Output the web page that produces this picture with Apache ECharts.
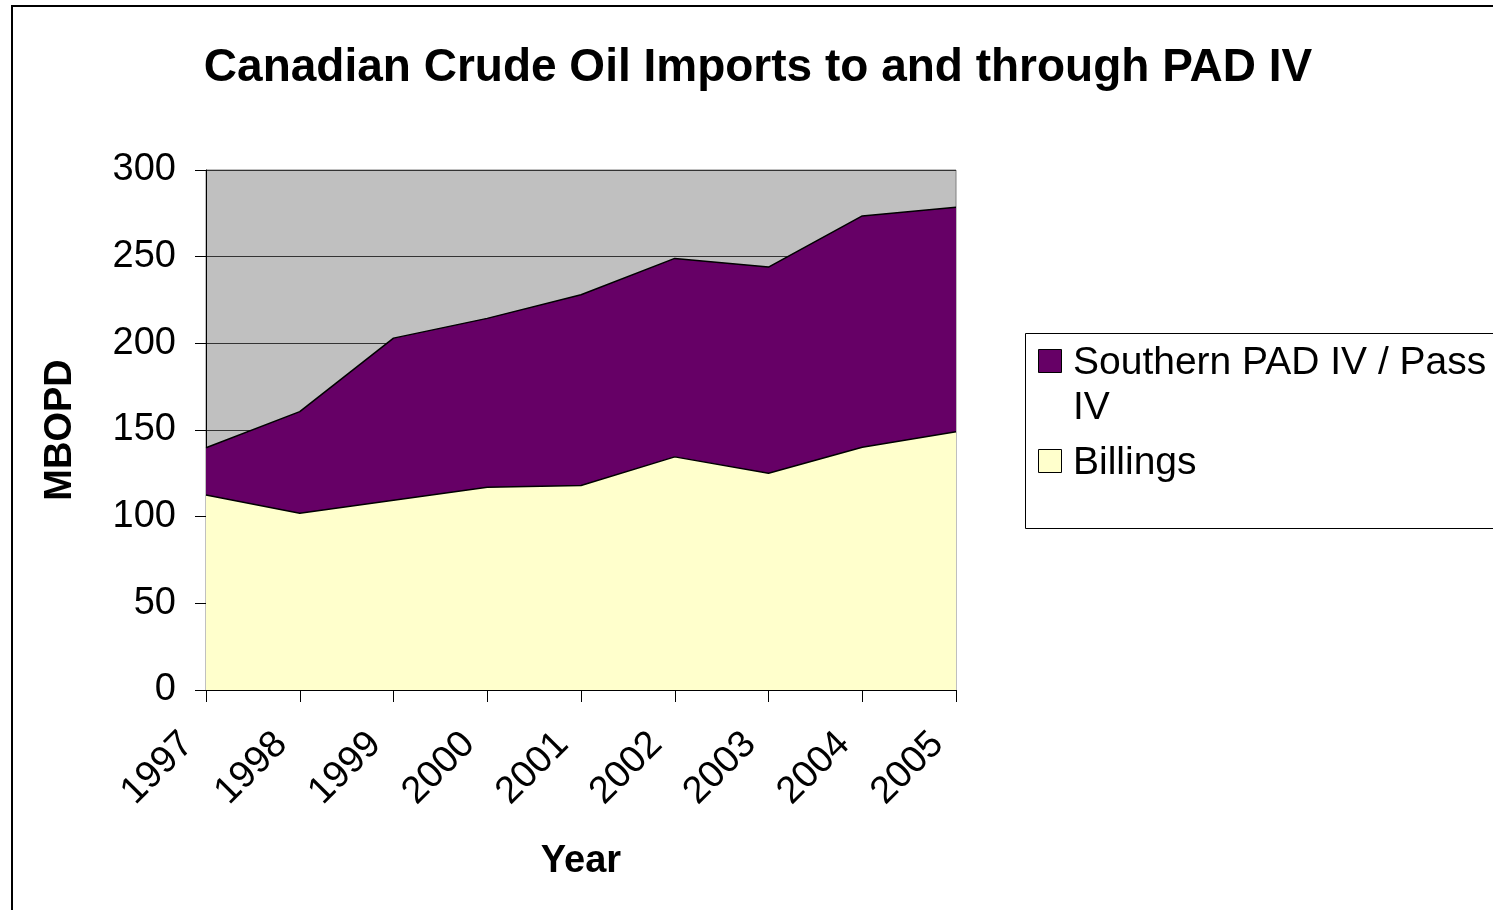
<!DOCTYPE html>
<html>
<head>
<meta charset="utf-8">
<script src="https://cdn.jsdelivr.net/npm/echarts@6/dist/echarts.min.js"></script>
<style>
html,body{margin:0;padding:0;background:#fff;}
#chart{width:1493px;height:910px;}
</style>
</head>
<body>
<div id="chart"></div>
<script>
var titleText = 'Canadian Crude Oil Imports to and through PAD IV';
var years = ['1997','1998','1999','2000','2001','2002','2003','2004','2005'];
var billings = [112.5, 102, 109.5, 117, 118, 134.5, 125, 140, 149];
var southern = [27.3, 58.6, 93.5, 97.4, 110, 114.5, 119, 133.5, 129.5];
var seriesNames = ['Billings', 'Southern PAD IV / Pass IV'];
var seriesColors = ['#FFFFCC', '#660066'];
var yAxisName = 'MBOPD';
var xAxisName = 'Year';

var FONT = '"Liberation Sans", Arial, sans-serif';
var LEGEND_FONT = '39px ' + FONT;
var chart = echarts.init(document.getElementById('chart'), null, {renderer: 'canvas'});

// word-wrap a label to a max width (like the legend box does)
function wrap(text, font, maxW) {
  var ctx = document.createElement('canvas').getContext('2d');
  ctx.font = font;
  var words = text.split(' '), lines = [], cur = '';
  words.forEach(function (w) {
    var t = cur ? cur + ' ' + w : w;
    if (cur && ctx.measureText(t).width > maxW) { lines.push(cur); cur = w; }
    else { cur = t; }
  });
  if (cur) lines.push(cur);
  return lines.join('\n');
}

// legend (Southern first, then Billings), built from series names/colors
var legendOrder = [1, 0];
var legendGraphics = [{
  type: 'rect', silent: true,
  shape: {x: 1025.5, y: 333.5, width: 600, height: 195},
  style: {fill: '#fff', stroke: '#000', lineWidth: 1}
}];
var legendTops = [349, 449];
legendOrder.forEach(function (si, k) {
  var top = legendTops[k];
  legendGraphics.push({
    type: 'rect', silent: true,
    shape: {x: 1038.5, y: top + 0.5, width: 23, height: 23},
    style: {fill: seriesColors[si], stroke: '#000', lineWidth: 1}
  });
  legendGraphics.push({
    type: 'text', silent: true,
    x: 1073, y: top - 8,
    style: {
      text: wrap(seriesNames[si], LEGEND_FONT, 418), fill: '#000',
      font: LEGEND_FONT, lineHeight: 45,
      align: 'left', verticalAlign: 'top'
    }
  });
});

var option = {
  backgroundColor: '#fff',
  animation: false,
  title: {
    text: titleText,
    left: 753, top: 40, textAlign: 'center',
    textStyle: {fontFamily: FONT, fontSize: 46, fontWeight: 'bold', color: '#000'}
  },
  grid: {
    left: 206, right: 537, top: 170, bottom: 220,
    show: true, backgroundColor: '#C0C0C0', borderColor: '#808080', borderWidth: 1
  },
  xAxis: {
    type: 'category', data: years, boundaryGap: false,
    name: xAxisName, nameLocation: 'middle', nameGap: 153,
    nameTextStyle: {fontFamily: FONT, fontSize: 38, fontWeight: 'bold', color: '#000'},
    axisLine: {show: true, lineStyle: {color: '#000', width: 1}},
    axisTick: {show: true, alignWithLabel: true, length: 12, lineStyle: {color: '#000'}},
    axisLabel: {rotate: 45, margin: 30, padding: [0, 26, 0, 0], fontFamily: FONT, fontSize: 38, color: '#000'},
    splitLine: {show: false}
  },
  yAxis: {
    type: 'value', min: 0, max: 300, interval: 50,
    name: yAxisName, nameLocation: 'middle', nameGap: 126,
    nameTextStyle: {fontFamily: FONT, fontSize: 38, fontWeight: 'bold', color: '#000'},
    axisLine: {show: true, lineStyle: {color: '#000', width: 1}},
    axisTick: {show: true, length: 11, lineStyle: {color: '#000'}},
    axisLabel: {margin: 30, fontFamily: FONT, fontSize: 38, color: '#000'},
    splitLine: {show: true, lineStyle: {color: '#333', width: 1}}
  },
  series: [
    {
      name: seriesNames[0], type: 'line', stack: 'total', data: billings,
      symbol: 'none', lineStyle: {color: '#000', width: 1.5},
      areaStyle: {color: seriesColors[0], opacity: 1},
      itemStyle: {color: seriesColors[0]}
    },
    {
      name: seriesNames[1], type: 'line', stack: 'total', data: southern,
      symbol: 'none', lineStyle: {color: '#000', width: 1.5},
      areaStyle: {color: seriesColors[1], opacity: 1},
      itemStyle: {color: seriesColors[1]}
    }
  ],
  graphic: [{
    type: 'rect', silent: true, z: 100,
    shape: {x: 12, y: 6, width: 1700, height: 1200},
    style: {fill: null, stroke: '#000', lineWidth: 2}
  }].concat(legendGraphics)
};
chart.setOption(option);
</script>
</body>
</html>
